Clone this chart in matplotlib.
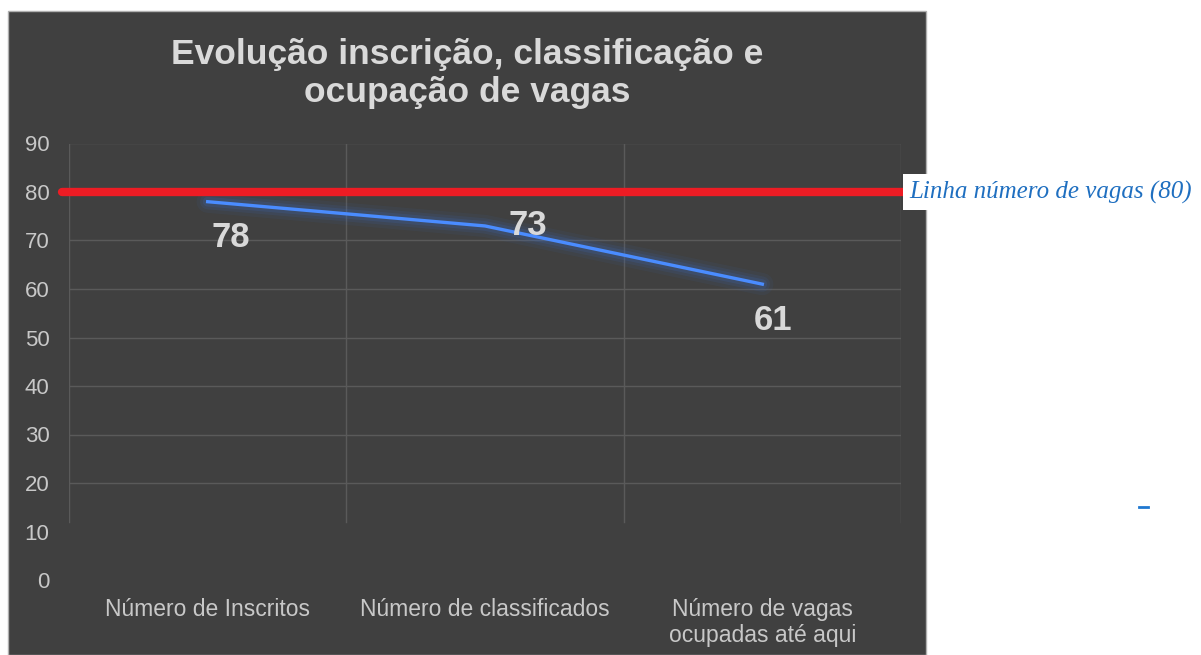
import matplotlib.pyplot as plt
from matplotlib.patches import Rectangle

# data
categorias = ['Número de Inscritos', 'Número de classificados', 'Número de vagas\nocupadas até aqui']
valores = [78, 73, 61]
vagas = 80
yticks = [0, 10, 20, 30, 40, 50, 60, 70, 80, 90]

# look
W, H = 1201, 655
panel_color = '#404040'
grid_color = '#5a5a5a'
text_color = '#c8c8c8'
line_color = '#4a8cff'
red = '#ed1c24'
label_offsets = [(17, -26), (31, 0), (8, -26)]  # points, per data label

plt.rcParams['font.family'] = ['Liberation Sans', 'DejaVu Sans']

fig = plt.figure(figsize=(W / 100, H / 100), dpi=100, facecolor='white')

# dark chart panel
fig.patches.append(Rectangle((8 / W, 0), (926 - 8) / W, (H - 11) / H,
                             transform=fig.transFigure, facecolor=panel_color,
                             edgecolor='#b0b0b0', linewidth=1, zorder=-5))

ax = fig.add_axes([69 / W, 1 - 580 / H, (901 - 69) / W, (580 - 143.5) / H])
ax.set_zorder(2)
ax.set_facecolor('none')
x = list(range(len(categorias)))
ax.set_xlim(-0.5, len(categorias) - 0.5)
ax.set_ylim(0, 90)
ax.set_yticks(yticks)
ax.set_xticks(x)
ax.set_xticklabels(categorias, fontsize=16.5, color=text_color, linespacing=1.15)
ax.tick_params(axis='y', labelsize=16, labelcolor=text_color, length=0, pad=14)
ax.tick_params(axis='x', length=0, pad=13)
for s in ax.spines.values():
    s.set_visible(False)

# grid (lower part of the original is blank)
for t in yticks:
    if t >= 20:
        ax.axhline(t, color=grid_color, lw=1, zorder=1)
for b in [i - 0.5 for i in range(len(categorias) + 1)]:
    ax.plot([b, b], [12, 90], color=grid_color, lw=1, zorder=1)

# glowing line
for lw, a in [(16, 0.08), (11, 0.12), (7, 0.18)]:
    ax.plot(x, valores, color='#3a6bbf', lw=lw, alpha=a, solid_capstyle='round', zorder=2)
ax.plot(x, valores, color=line_color, lw=2.4, zorder=3)

for xi, v, off in zip(x, valores, label_offsets):
    ax.annotate(str(v), (xi, v), xytext=off, textcoords='offset points',
                ha='center', va='center', fontsize=25, color='#d9d9d9',
                fontweight='bold', zorder=5)

# red reference line for number of vacancies
ax.plot([-0.008, 1.005], [vagas, vagas], transform=ax.get_yaxis_transform(),
        color=red, lw=6, solid_capstyle='round', clip_on=False, zorder=4)
ax.annotate(f'Linha número de vagas ({vagas})', (1.005, vagas),
            xycoords=ax.get_yaxis_transform(), xytext=(3, 0), textcoords='offset points',
            ha='left', va='center', fontsize=18, style='italic',
            family='Liberation Serif', color='#1f6fc0',
            bbox=dict(boxstyle='square,pad=0.25', fc='white', ec='none'),
            annotation_clip=False, zorder=6)

fig.text(467 / W, 1 - 38 / H, 'Evolução inscrição, classificação e\nocupação de vagas',
         ha='center', va='top', fontsize=25.5, fontweight='bold', color='#d9d9d9',
         linespacing=1.2)

# stray blue dash on the right
fig.lines.append(plt.Line2D([1139 / W, 1148 / W], [1 - 507 / H, 1 - 507 / H],
                            transform=fig.transFigure, color='#1f78d0', lw=2))

fig.savefig('out.png', dpi=100, facecolor='white')
